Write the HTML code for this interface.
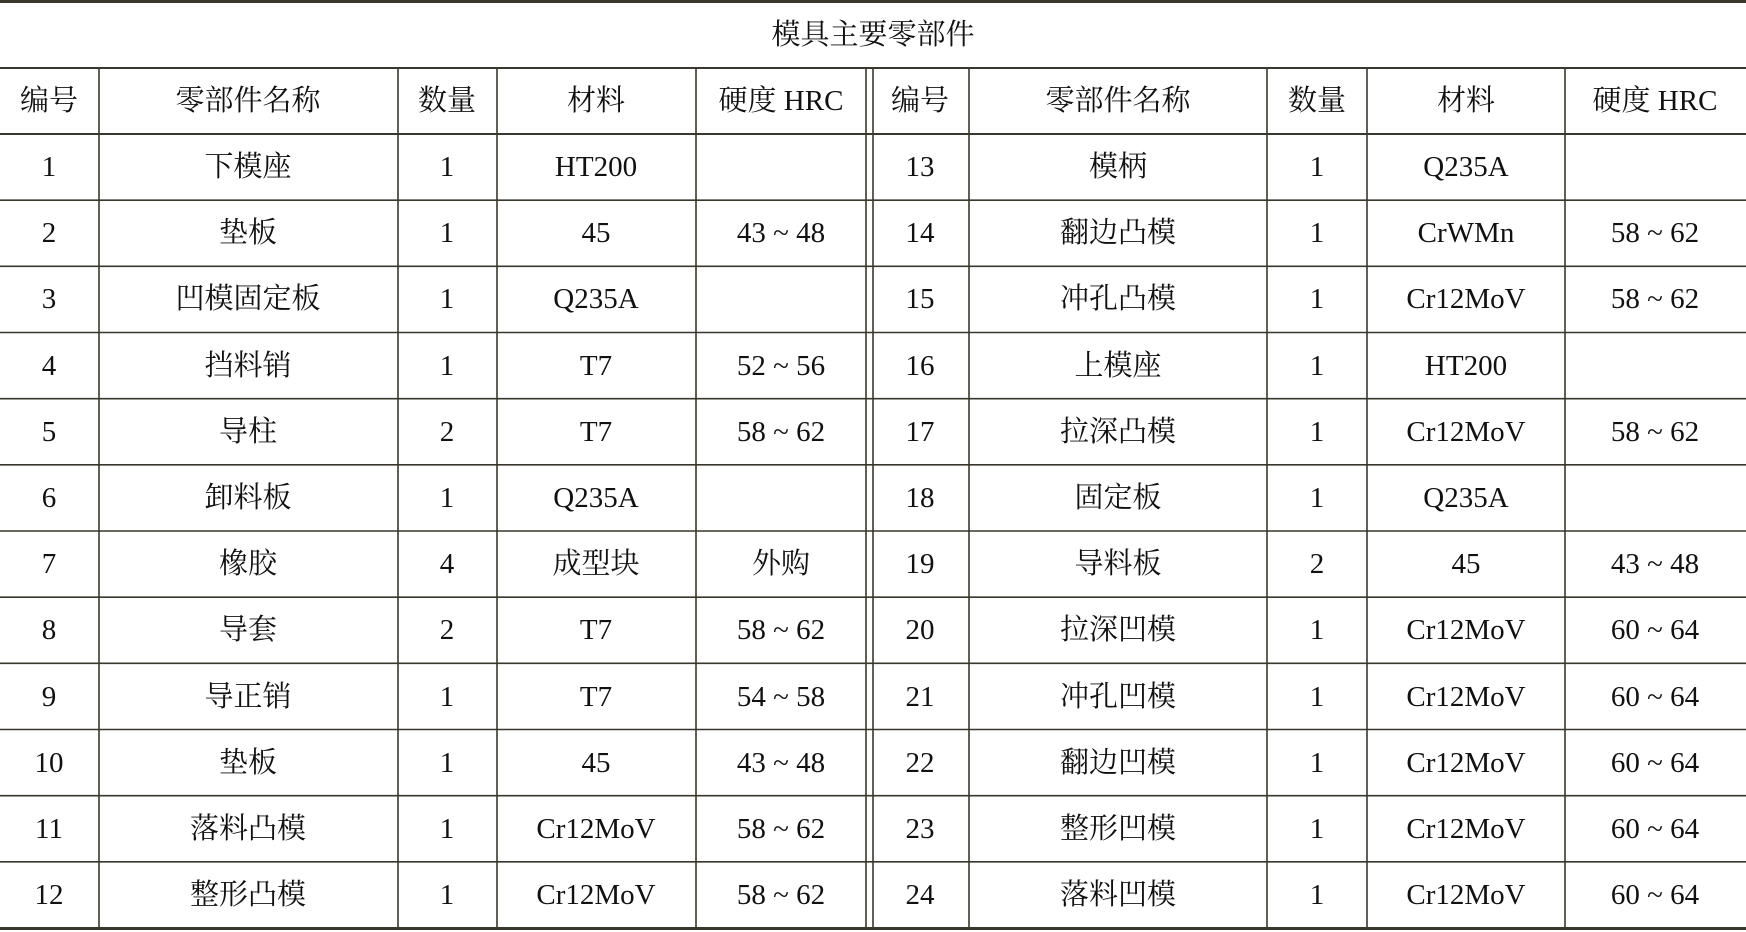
<!DOCTYPE html>
<html><head><meta charset="utf-8"><style>
html,body{margin:0;padding:0;background:#fff;}
svg{display:block;}
text{font-family:"Liberation Serif","Noto Serif CJK SC",serif;font-size:29px;fill:#111;}
</style></head><body>
<svg width="1746" height="932" viewBox="0 0 1746 932" xmlns="http://www.w3.org/2000/svg">
<rect width="1746" height="932" fill="#fff"/>
<g stroke="#3a372c" fill="none">
<line x1="0" y1="1.5" x2="1746" y2="1.5" stroke-width="3"/>
<line x1="0" y1="928.5" x2="1746" y2="928.5" stroke-width="3"/>
<line x1="0" y1="68" x2="1746" y2="68" stroke-width="2"/>
<line x1="0" y1="134" x2="1746" y2="134" stroke-width="2"/>
<g stroke-width="1.6">
<line x1="0" y1="200.2" x2="1746" y2="200.2"/>
<line x1="0" y1="266.3" x2="1746" y2="266.3"/>
<line x1="0" y1="332.5" x2="1746" y2="332.5"/>
<line x1="0" y1="398.7" x2="1746" y2="398.7"/>
<line x1="0" y1="464.8" x2="1746" y2="464.8"/>
<line x1="0" y1="531" x2="1746" y2="531"/>
<line x1="0" y1="597.2" x2="1746" y2="597.2"/>
<line x1="0" y1="663.3" x2="1746" y2="663.3"/>
<line x1="0" y1="729.5" x2="1746" y2="729.5"/>
<line x1="0" y1="795.7" x2="1746" y2="795.7"/>
<line x1="0" y1="861.8" x2="1746" y2="861.8"/>
</g>
<g stroke-width="1.6">
<line x1="99" y1="68" x2="99" y2="928"/>
<line x1="398" y1="68" x2="398" y2="928"/>
<line x1="497" y1="68" x2="497" y2="928"/>
<line x1="696" y1="68" x2="696" y2="928"/>
<line x1="866" y1="68" x2="866" y2="928"/>
<line x1="873" y1="68" x2="873" y2="928"/>
<line x1="969" y1="68" x2="969" y2="928"/>
<line x1="1267" y1="68" x2="1267" y2="928"/>
<line x1="1367" y1="68" x2="1367" y2="928"/>
<line x1="1565" y1="68" x2="1565" y2="928"/>
</g>
</g>
<g text-anchor="middle" dominant-baseline="central">
<text x="873" y="35">模具主要零部件</text>
<g>
<text x="49" y="101">编号</text><text x="248" y="101">零部件名称</text><text x="447" y="101">数量</text><text x="596" y="101">材料</text><text x="781" y="101">硬度 HRC</text>
<text x="920" y="101">编号</text><text x="1118" y="101">零部件名称</text><text x="1317" y="101">数量</text><text x="1466" y="101">材料</text><text x="1655" y="101">硬度 HRC</text>
</g>
<g id="rows">
<text x="49" y="167">1</text><text x="248" y="167">下模座</text><text x="447" y="167">1</text><text x="596" y="167">HT200</text><text x="781" y="167"></text>
<text x="920" y="167">13</text><text x="1118" y="167">模柄</text><text x="1317" y="167">1</text><text x="1466" y="167">Q235A</text><text x="1655" y="167"></text>

<text x="49" y="233">2</text><text x="248" y="233">垫板</text><text x="447" y="233">1</text><text x="596" y="233">45</text><text x="781" y="233">43 ~ 48</text>
<text x="920" y="233">14</text><text x="1118" y="233">翻边凸模</text><text x="1317" y="233">1</text><text x="1466" y="233">CrWMn</text><text x="1655" y="233">58 ~ 62</text>

<text x="49" y="299">3</text><text x="248" y="299">凹模固定板</text><text x="447" y="299">1</text><text x="596" y="299">Q235A</text>
<text x="920" y="299">15</text><text x="1118" y="299">冲孔凸模</text><text x="1317" y="299">1</text><text x="1466" y="299">Cr12MoV</text><text x="1655" y="299">58 ~ 62</text>

<text x="49" y="366">4</text><text x="248" y="366">挡料销</text><text x="447" y="366">1</text><text x="596" y="366">T7</text><text x="781" y="366">52 ~ 56</text>
<text x="920" y="366">16</text><text x="1118" y="366">上模座</text><text x="1317" y="366">1</text><text x="1466" y="366">HT200</text>

<text x="49" y="432">5</text><text x="248" y="432">导柱</text><text x="447" y="432">2</text><text x="596" y="432">T7</text><text x="781" y="432">58 ~ 62</text>
<text x="920" y="432">17</text><text x="1118" y="432">拉深凸模</text><text x="1317" y="432">1</text><text x="1466" y="432">Cr12MoV</text><text x="1655" y="432">58 ~ 62</text>

<text x="49" y="498">6</text><text x="248" y="498">卸料板</text><text x="447" y="498">1</text><text x="596" y="498">Q235A</text>
<text x="920" y="498">18</text><text x="1118" y="498">固定板</text><text x="1317" y="498">1</text><text x="1466" y="498">Q235A</text>

<text x="49" y="564">7</text><text x="248" y="564">橡胶</text><text x="447" y="564">4</text><text x="596" y="564">成型块</text><text x="781" y="564">外购</text>
<text x="920" y="564">19</text><text x="1118" y="564">导料板</text><text x="1317" y="564">2</text><text x="1466" y="564">45</text><text x="1655" y="564">43 ~ 48</text>

<text x="49" y="630">8</text><text x="248" y="630">导套</text><text x="447" y="630">2</text><text x="596" y="630">T7</text><text x="781" y="630">58 ~ 62</text>
<text x="920" y="630">20</text><text x="1118" y="630">拉深凹模</text><text x="1317" y="630">1</text><text x="1466" y="630">Cr12MoV</text><text x="1655" y="630">60 ~ 64</text>

<text x="49" y="697">9</text><text x="248" y="697">导正销</text><text x="447" y="697">1</text><text x="596" y="697">T7</text><text x="781" y="697">54 ~ 58</text>
<text x="920" y="697">21</text><text x="1118" y="697">冲孔凹模</text><text x="1317" y="697">1</text><text x="1466" y="697">Cr12MoV</text><text x="1655" y="697">60 ~ 64</text>

<text x="49" y="763">10</text><text x="248" y="763">垫板</text><text x="447" y="763">1</text><text x="596" y="763">45</text><text x="781" y="763">43 ~ 48</text>
<text x="920" y="763">22</text><text x="1118" y="763">翻边凹模</text><text x="1317" y="763">1</text><text x="1466" y="763">Cr12MoV</text><text x="1655" y="763">60 ~ 64</text>

<text x="49" y="829">11</text><text x="248" y="829">落料凸模</text><text x="447" y="829">1</text><text x="596" y="829">Cr12MoV</text><text x="781" y="829">58 ~ 62</text>
<text x="920" y="829">23</text><text x="1118" y="829">整形凹模</text><text x="1317" y="829">1</text><text x="1466" y="829">Cr12MoV</text><text x="1655" y="829">60 ~ 64</text>

<text x="49" y="895">12</text><text x="248" y="895">整形凸模</text><text x="447" y="895">1</text><text x="596" y="895">Cr12MoV</text><text x="781" y="895">58 ~ 62</text>
<text x="920" y="895">24</text><text x="1118" y="895">落料凹模</text><text x="1317" y="895">1</text><text x="1466" y="895">Cr12MoV</text><text x="1655" y="895">60 ~ 64</text>
</g>
</g>
</svg>
</body></html>
